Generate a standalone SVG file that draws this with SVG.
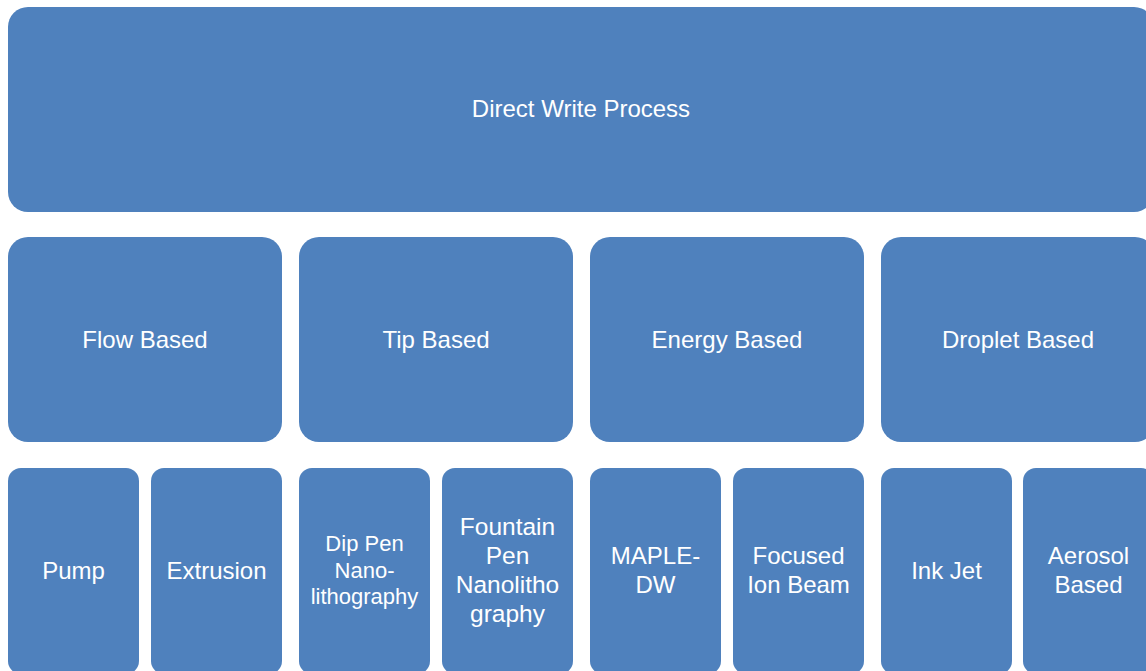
<svg xmlns="http://www.w3.org/2000/svg" width="1146" height="671" viewBox="0 0 1146 671">
<style>
.box{fill:#4F81BD;}
.t{fill:#FFFFFF;font-family:"Liberation Sans",Arial,sans-serif;font-size:24px;text-anchor:middle;}
.s{font-size:22px;}
.f{font-size:24.5px;}
</style>
<rect width="1146" height="671" fill="#FFFFFF"/>
<g id="connectors"></g>
<g id="direct-write-process"><rect class="box" x="8" y="7" width="1146" height="205" rx="20"/><text class="t" x="581" y="117">Direct Write Process</text></g>
<g id="flow-based"><rect class="box" x="8" y="237" width="274" height="205" rx="20"/><text class="t" x="145" y="347.5">Flow Based</text></g>
<g id="tip-based"><rect class="box" x="299" y="237" width="274" height="205" rx="20"/><text class="t" x="436" y="347.5">Tip Based</text></g>
<g id="energy-based"><rect class="box" x="590" y="237" width="274" height="205" rx="20"/><text class="t" x="727" y="347.5">Energy Based</text></g>
<g id="droplet-based"><rect class="box" x="881" y="237" width="274" height="205" rx="20"/><text class="t" x="1018" y="347.5">Droplet Based</text></g>
<g id="pump"><rect class="box" x="8" y="468" width="131" height="206" rx="13"/><text class="t" x="73.5" y="579">Pump</text></g>
<g id="extrusion"><rect class="box" x="151" y="468" width="131" height="206" rx="13"/><text class="t" x="216.5" y="579">Extrusion</text></g>
<g id="dip-pen"><rect class="box" x="299" y="468" width="131" height="206" rx="13"/><text class="t s" x="364.5" y="551"><tspan x="364.5" y="551">Dip Pen</tspan><tspan x="364.5" y="577.5">Nano-</tspan><tspan x="364.5" y="604">lithography</tspan></text></g>
<g id="fountain-pen"><rect class="box" x="442" y="468" width="131" height="206" rx="13"/><text class="t f" x="507.5" y="535"><tspan x="507.5" y="535">Fountain</tspan><tspan x="507.5" y="564">Pen</tspan><tspan x="507.5" y="593">Nanolitho</tspan><tspan x="507.5" y="622">graphy</tspan></text></g>
<g id="maple-dw"><rect class="box" x="590" y="468" width="131" height="206" rx="13"/><text class="t" x="655.5" y="563.5"><tspan x="655.5" y="563.5">MAPLE-</tspan><tspan x="655.5" y="592.5">DW</tspan></text></g>
<g id="focused-ion-beam"><rect class="box" x="733" y="468" width="131" height="206" rx="13"/><text class="t" x="798.5" y="563.5"><tspan x="798.5" y="563.5">Focused</tspan><tspan x="798.5" y="592.5">Ion Beam</tspan></text></g>
<g id="ink-jet"><rect class="box" x="881" y="468" width="131" height="206" rx="13"/><text class="t" x="946.5" y="579">Ink Jet</text></g>
<g id="aerosol-based"><rect class="box" x="1023" y="468" width="131" height="206" rx="13"/><text class="t" x="1088.5" y="563.5"><tspan x="1088.5" y="563.5">Aerosol</tspan><tspan x="1088.5" y="592.5">Based</tspan></text></g>
</svg>
